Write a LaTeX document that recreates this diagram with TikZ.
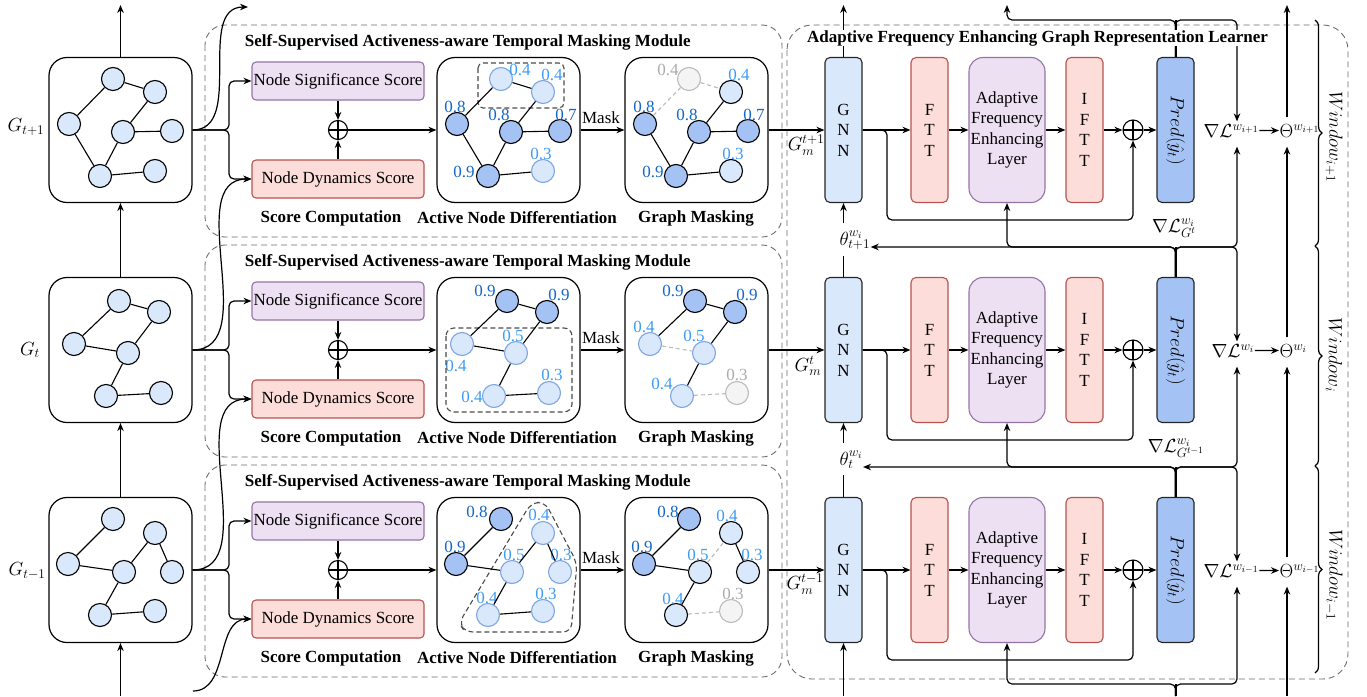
\RequirePackage{fix-cm}
\documentclass[tikz,border=0pt]{standalone}
\usepackage[no-math]{fontspec}
\setmainfont{Liberation Serif}
\usetikzlibrary{arrows.meta,calc,decorations.pathreplacing}

\definecolor{nodeblue}{HTML}{DAE8FC}
\definecolor{nodedark}{HTML}{A4C2F4}
\definecolor{nodeedge}{HTML}{7EA6E0}
\definecolor{ghostfill}{HTML}{F4F4F4}
\definecolor{ghostedge}{HTML}{BBBBBB}
\definecolor{purfill}{HTML}{EDE0F3}
\definecolor{puredge}{HTML}{9673A6}
\definecolor{redfill}{HTML}{FCDDD9}
\definecolor{rededge}{HTML}{B85450}
\definecolor{valdark}{HTML}{1467C8}
\definecolor{vallight}{HTML}{3D9CF5}
\definecolor{valghost}{HTML}{ABABAB}
\definecolor{dashgray}{HTML}{6E6E6E}

\newcommand\bodysize{\fontsize{17}{20.5}\selectfont}
\newcommand\mathsize{\fontsize{19}{22}\selectfont}
% graph vertex with its score: name, style, x, y, score style, dx, dy, score
\newcommand\gv[8]{%
  \node[gnode,#2] (#1) at (#3,#4) {};
  \node[vlab,#5] (#1v) at ({#3+(#6)},{#4+(#7)}) {#8};}

\begin{document}
\begin{tikzpicture}[x=1pt,y=-1pt,line width=1.2pt,
  >={Stealth[length=8pt,width=6.5pt]},
  every node/.style={font=\bodysize},
  mlab/.style={font=\mathsize},
  gbox/.style={draw,rounded corners=18pt,minimum width=143pt,minimum height=145pt,inner sep=0pt},
  gnode/.style={circle,minimum size=23pt,inner sep=0pt,line width=1.1pt},
  ndk/.style={fill=nodedark,draw=black},
  nlt/.style={fill=nodeblue,draw=nodeedge},
  nlb/.style={fill=nodeblue,draw=black},
  ngh/.style={fill=ghostfill,draw=ghostedge},
  vlab/.style={inner sep=0pt},
  vdk/.style={text=valdark},
  vlt/.style={text=vallight},
  vgh/.style={text=valghost},
  gline/.style={line width=1.1pt},
  gdash/.style={draw=ghostedge,line width=1.1pt,dash pattern=on 4pt off 3pt},
  groupbox/.style={draw=black!70,line width=1.1pt,dash pattern=on 5pt off 3pt,rounded corners=5pt},
  modbox/.style={draw=dashgray,line width=0.9pt,dash pattern=on 6pt off 4pt,rounded corners=20pt},
  scorebox/.style={rounded corners=4pt,minimum width=172pt,minimum height=38pt,inner sep=0pt,line width=1.1pt},
  nssbox/.style={scorebox,fill=purfill,draw=puredge},
  ndsbox/.style={scorebox,fill=redfill,draw=rededge},
  sumnode/.style={circle,draw,minimum size=19pt,inner sep=0pt,line width=1.1pt,
    path picture={\draw[line width=1.1pt] (path picture bounding box.north) -- (path picture bounding box.south)
      (path picture bounding box.west) -- (path picture bounding box.east);}},
  colbox/.style={rounded corners=5pt,minimum width=37pt,minimum height=145pt,inner sep=0pt,align=center,line width=1.1pt},
  gnnbox/.style={colbox,fill=nodeblue,draw=black!85},
  fttbox/.style={colbox,fill=redfill,draw=rededge},
  afelbox/.style={colbox,minimum width=76pt,rounded corners=14pt,fill=purfill,draw=puredge},
  predbox/.style={colbox,fill=nodedark,draw=black!85},
  ttl/.style={font=\bodysize\bfseries},
  thick2/.style={line width=2pt}
]
\fill[white] (0,0) rectangle (1367,696);
\useasboundingbox (0,0) rectangle (1367,696);

% ---------- learner frame ----------
\draw[modbox,rounded corners=25pt] (787,25) rectangle (1348,679);

% ---------- rows ----------
\foreach \rw/\cy in {1/130,2/350,3/570}{
  \draw[modbox] (205,\cy-105) rectangle (782,\cy+107);
  \node[ttl,anchor=west] (T\rw) at (241,\cy-88) {Self-Supervised Activeness-aware Temporal Masking Module};
  \node[gbox] (G\rw) at (120.5,\cy) {};
  \node[nssbox] (S\rw) at (338,\cy-49) {Node Significance Score};
  \node[ndsbox] (D\rw) at (338,\cy+49) {Node Dynamics Score};
  \node[sumnode] (P\rw) at (338,\cy) {};
  \node[gbox] (A\rw) at (508.5,\cy) {};
  \node[gbox] (M\rw) at (696.5,\cy) {};
  \node[ttl] (SC\rw) at (331,\cy+88) {Score Computation};
  \node[ttl] (AN\rw) at (517,\cy+88) {Active Node Differentiation};
  \node[ttl] (GK\rw) at (696,\cy+88) {Graph Masking};
  \node (MK\rw) at (601,\cy-12) {Mask};
  \draw[->,rounded corners=5pt] (G\rw.east) -- (229,\cy) |- (S\rw.west);
  \draw[->,rounded corners=5pt] (G\rw.east) -- (229,\cy) |- (D\rw.west);
  \draw[->] (S\rw.south) -- (P\rw.north);
  \draw[->] (D\rw.north) -- (P\rw.south);
  \draw[->] (P\rw.east) -- (A\rw.west);
  \draw[->] (A\rw.east) -- (M\rw.west);
  % learner row
  \node[gnnbox] (N\rw) at (843.5,\cy) {G\\N\\N};
  \node[fttbox] (F\rw) at (929.5,\cy) {F\\T\\T};
  \node[afelbox] (E\rw) at (1007,\cy) {Adaptive\\Frequency\\Enhancing\\Layer};
  \node[fttbox] (I\rw) at (1084.5,\cy) {I\\F\\T\\T};
  \node[sumnode,minimum size=20pt] (Q\rw) at (1133,\cy) {};
  \node[predbox] (R\rw) at (1175.5,\cy) {};
  \node[mlab,rotate=-90] (RT\rw) at (R\rw) {$Pred(\hat{y}_t)$};
  \draw[->] (M\rw.east) -- (N\rw.west);
  \draw[->] (N\rw.east) -- (F\rw.west);
  \draw[->] (F\rw.east) -- (E\rw.west);
  \draw[->] (E\rw.east) -- (I\rw.west);
  \draw[->] (I\rw.east) -- (Q\rw.west);
  \draw[->] (Q\rw.east) -- (R\rw.west);
  \draw[->,rounded corners=5pt] (N\rw.east) -- (887,\cy) -- (887,\cy+90) -| (Q\rw.south);
}

% ---------- snapshot labels and time arrows ----------
\node[mlab] (lg1) at (26,127) {$G_{t+1}$};
\node[mlab] (lg2) at (30,350) {$G_t$};
\node[mlab] (lg3) at (27,571) {$G_{t-1}$};
\coordinate (gTop) at (120.5,5);
\coordinate (gBot) at (120.5,696);
\draw[->] (G1.north) -- (gTop);
\draw[->] (G2.north) -- (G1.south);
\draw[->] (G3.north) -- (G2.south);
\draw[->] (gBot) -- (G3.south);

\coordinate (cTop) at (248,7);
\coordinate (cBot) at (193,691);
\draw[->] (G1.east) to[out=0,in=180] (cTop);
\draw[->] (G2.east) to[out=0,in=180] (D1.west);
\draw[->] (G3.east) to[out=0,in=180] (D2.west);
\draw[->] (cBot) to[out=0,in=180] (D3.west);

% ---------- snapshot graphs ----------
\begin{scope}[shift={(49,57)}]
  \foreach \n/\x/\y in {a/64/22,b/106/35,c/20/67,d/74/75,e/123/74,f/51/119,g/106/114}
    \node[gnode,nlb] (L1\n) at (\x,\y) {};
\end{scope}
\foreach \u/\v in {c/a,a/b,b/d,d/e,c/f,d/f,f/g} \draw[gline] (L1\u) -- (L1\v);

\begin{scope}[shift={(49,277)}]
  \foreach \n/\x/\y in {a/70/24,b/110/35,c/25/67,d/79/76,e/57/119,f/112/116}
    \node[gnode,nlb] (L2\n) at (\x,\y) {};
\end{scope}
\foreach \u/\v in {c/a,a/b,b/d,c/d,d/e,e/f} \draw[gline] (L2\u) -- (L2\v);

\begin{scope}[shift={(49,497)}]
  \foreach \n/\x/\y in {a/64/22,b/106/36,c/19/67,d/75/75,e/123/75,f/51/118,g/106/114}
    \node[gnode,nlb] (L3\n) at (\x,\y) {};
\end{scope}
\foreach \u/\v in {c/a,c/d,d/b,b/e,d/f,f/g} \draw[gline] (L3\u) -- (L3\v);

% ---------- active node differentiation ----------
\begin{scope}[shift={(437,57)}]
  \gv{A1a}{nlt}{64}{22}{vlt}{19}{-9}{0.4}
  \gv{A1b}{nlt}{106}{35}{vlt}{9}{-17}{0.4}
  \gv{A1c}{ndk}{20}{67}{vdk}{-2}{-17}{0.8}
  \gv{A1d}{ndk}{74}{75}{vdk}{-12}{-17}{0.8}
  \gv{A1e}{ndk}{123}{74}{vdk}{6}{-16}{0.7}
  \gv{A1f}{ndk}{51}{119}{vdk}{-24}{-4}{0.9}
  \gv{A1g}{nlt}{106}{114}{vlt}{-2}{-17}{0.3}
  \draw[groupbox] (41,6) rectangle (127,51);
\end{scope}
\foreach \u/\v in {c/a,a/b,b/d,d/e,c/f,d/f,f/g} \draw[gline] (A1\u) -- (A1\v);

\begin{scope}[shift={(437,277)}]
  \gv{A2a}{ndk}{70}{24}{vdk}{-22}{-10}{0.9}
  \gv{A2b}{ndk}{110}{35}{vdk}{12}{-17}{0.9}
  \gv{A2c}{nlt}{25}{67}{vlt}{-6}{22}{0.4}
  \gv{A2d}{nlt}{79}{76}{vlt}{-3}{-17}{0.5}
  \gv{A2e}{nlt}{57}{119}{vlt}{-22}{1}{0.4}
  \gv{A2f}{nlt}{112}{116}{vlt}{3}{-18}{0.3}
  \draw[groupbox,rounded corners=8pt] (9,51) rectangle (135,135);
\end{scope}
\foreach \u/\v in {c/a,a/b,b/d,c/d,d/e,e/f} \draw[gline] (A2\u) -- (A2\v);

\begin{scope}[shift={(437,497)}]
  \gv{A3a}{ndk}{64}{22}{vdk}{-24}{-7}{0.8}
  \gv{A3b}{nlt}{106}{36}{vlt}{-4}{-18}{0.4}
  \gv{A3c}{ndk}{19}{67}{vdk}{-1}{-17}{0.9}
  \gv{A3d}{nlt}{75}{75}{vlt}{2}{-17}{0.5}
  \gv{A3e}{nlt}{123}{75}{vlt}{1}{-17}{0.3}
  \gv{A3f}{nlt}{51}{118}{vlt}{-1}{-17}{0.4}
  \gv{A3g}{nlt}{106}{114}{vlt}{3}{-17}{0.3}
  \draw[groupbox,rounded corners=8pt] (94,6) -- (108,5) -- (140,66) -- (134,135) -- (28,135) -- (22,126) -- cycle;
\end{scope}
\foreach \u/\v in {c/a,c/d,d/b,b/e,d/f,f/g} \draw[gline] (A3\u) -- (A3\v);

% ---------- masked graphs ----------
\begin{scope}[shift={(625,57)}]
  \gv{M1a}{ngh}{64}{22}{vgh}{-21}{-9}{0.4}
  \gv{M1b}{nlb}{106}{35}{vlt}{8}{-17}{0.4}
  \gv{M1c}{ndk}{20}{67}{vdk}{-1}{-17}{0.8}
  \gv{M1d}{ndk}{74}{75}{vdk}{-12}{-17}{0.8}
  \gv{M1e}{ndk}{123}{74}{vdk}{6}{-16}{0.7}
  \gv{M1f}{ndk}{51}{119}{vdk}{-23}{-4}{0.9}
  \gv{M1g}{nlb}{106}{114}{vlt}{2}{-17}{0.3}
\end{scope}
\foreach \u/\v in {c/a,a/b} \draw[gdash] (M1\u) -- (M1\v);
\foreach \u/\v in {b/d,d/e,c/f,d/f,f/g} \draw[gline] (M1\u) -- (M1\v);

\begin{scope}[shift={(625,277)}]
  \gv{M2a}{ndk}{70}{24}{vdk}{-22}{-10}{0.9}
  \gv{M2b}{ndk}{110}{35}{vdk}{12}{-17}{0.9}
  \gv{M2c}{nlt}{25}{67}{vlt}{-6}{-17}{0.4}
  \gv{M2d}{nlt}{79}{76}{vlt}{-10}{-17}{0.5}
  \gv{M2e}{nlt}{57}{119}{vlt}{-20}{-12}{0.4}
  \gv{M2f}{ngh}{112}{116}{vgh}{0}{-18}{0.3}
\end{scope}
\foreach \u/\v in {c/d,e/f} \draw[gdash] (M2\u) -- (M2\v);
\foreach \u/\v in {c/a,a/b,b/d,d/e} \draw[gline] (M2\u) -- (M2\v);

\begin{scope}[shift={(625,497)}]
  \gv{M3a}{ndk}{64}{22}{vdk}{-21}{-7}{0.8}
  \gv{M3b}{nlb}{106}{36}{vlt}{-4}{-17}{0.4}
  \gv{M3c}{ndk}{19}{67}{vdk}{-2}{-17}{0.9}
  \gv{M3d}{nlb}{75}{75}{vlt}{-2}{-17}{0.5}
  \gv{M3e}{nlb}{123}{75}{vlt}{4}{-17}{0.3}
  \gv{M3f}{nlb}{51}{118}{vlt}{-3}{-16}{0.4}
  \gv{M3g}{ngh}{106}{114}{vgh}{2}{-17}{0.3}
\end{scope}
\foreach \u/\v in {d/b,f/g} \draw[gdash] (M3\u) -- (M3\v);
\foreach \u/\v in {c/a,c/d,b/e,d/f} \draw[gline] (M3\u) -- (M3\v);

% ---------- learner inputs and parameters ----------
\node[mlab] (gm1) at (806,145) {$G_m^{t+1}$};
\node[mlab] (gm2) at (808,366) {$G_m^{t}$};
\node[mlab] (gm3) at (805,584) {$G_m^{t-1}$};

\node[mlab,anchor=base west,inner sep=0pt] (th1) at (839,245) {$\theta^{w_i}_{t+1}$};
\node[mlab,anchor=base west,inner sep=0pt] (th2) at (839,465) {$\theta^{w_i}_{t}$};
\coordinate (nTop) at (843.5,5);
\coordinate (nBot) at (843.5,696);
\draw[->] (N1.north) -- (nTop);
\draw[->,shorten <=7pt] (th1.north -| N1.south) -- (N1.south);
\draw[shorten >=6pt] (N2.north) -- (th1.south -| N2.north);
\draw[->,shorten <=7pt] (th2.north -| N2.south) -- (N2.south);
\draw[shorten >=6pt] (N3.north) -- (th2.south -| N3.north);
\draw[->] (nBot) -- (N3.south);

% ---------- gradients and window parameters ----------
\node[mlab,anchor=base west,inner sep=0pt] (dL1) at (1203,137) {$\nabla\mathcal{L}^{w_{i+1}}$};
\node[mlab,anchor=base west,inner sep=0pt] (dL2) at (1211,357) {$\nabla\mathcal{L}^{w_{i}}$};
\node[mlab,anchor=base west,inner sep=0pt] (dL3) at (1203,577) {$\nabla\mathcal{L}^{w_{i-1}}$};
\node[mlab,anchor=base west,inner sep=0pt] (om1) at (1279,137) {$\Theta^{w_{i+1}}$};
\node[mlab,anchor=base west,inner sep=0pt] (om2) at (1279,357) {$\Theta^{w_{i}}$};
\node[mlab,anchor=base west,inner sep=0pt] (om3) at (1279,577) {$\Theta^{w_{i-1}}$};
\draw[->] (dL1.east) -- (om1.west);
\draw[->] (dL2.east) -- (om2.west);
\draw[->] (dL3.east) -- (om3.west);

\node[mlab] (gL1) at (1174,228) {$\nabla\mathcal{L}^{w_i}_{G^t}$};
\node[mlab] (gL2) at (1176,448) {$\nabla\mathcal{L}^{w_i}_{G^{t-1}}$};

\coordinate (xL) at (1237,0);
\coordinate (xT) at (1287,0);
\coordinate (y0) at (0,20);
\coordinate (y1) at (0,247);
\coordinate (y2) at (0,467);
\coordinate (y3) at (0,684);
\coordinate (aTop) at (1007,5);
\coordinate (pBot) at (1175.5,696);
\coordinate (oTop) at (1287,5);
\coordinate (oBot) at (1287,696);

% feedback above the first row
\draw[thick2] (R1.north) -- (R1.north |- y0);
\draw[->,rounded corners=5pt] (R1.north) |- (aTop |- y0) -- (aTop);
\draw[->,rounded corners=5pt,shorten >=2pt] (R1.north) |- (xL |- y0) -- (dL1.north -| xL);

% feedback between rows
\draw[thick2] (R2.north) -- (R2.north |- y1);
\draw[->,rounded corners=5pt] (R2.north) |- (th1.east |- y1);
\draw[->,rounded corners=5pt] (R2.north) |- (E1.south |- y1) -- (E1.south);
\draw[->,rounded corners=5pt,shorten >=9pt] (R2.north) |- (xL |- y1) -- (dL1.south -| xL);
\draw[->,rounded corners=5pt,shorten >=2pt] (R2.north) |- (xL |- y1) -- (dL2.north -| xL);

\draw[thick2] (R3.north) -- (R3.north |- y2);
\draw[->,rounded corners=5pt] (R3.north) |- (th2.east |- y2);
\draw[->,rounded corners=5pt] (R3.north) |- (E2.south |- y2) -- (E2.south);
\draw[->,rounded corners=5pt,shorten >=9pt] (R3.north) |- (xL |- y2) -- (dL2.south -| xL);
\draw[->,rounded corners=5pt,shorten >=2pt] (R3.north) |- (xL |- y2) -- (dL3.north -| xL);

% feedback below the last row
\draw[thick2] (pBot) -- (pBot |- y3);
\draw[->,rounded corners=5pt] (pBot) |- (E3.south |- y3) -- (E3.south);
\draw[->,rounded corners=5pt,shorten >=9pt] (pBot) |- (xL |- y3) -- (dL3.south -| xL);

% parameter chain
\draw[->,shorten <=6pt] (om1.north -| xT) -- (oTop);
\draw[->,shorten <=6pt,shorten >=9pt] (om2.north -| xT) -- (om1.south -| xT);
\draw[->,shorten <=6pt,shorten >=9pt] (om3.north -| xT) -- (om2.south -| xT);
\draw[->,shorten >=9pt] (oBot) -- (om3.south -| xT);

% learner title, drawn over the lines that run behind it
\node[ttl,fill=white,inner sep=0.5pt] (T0) at (1037.5,38) {Adaptive Frequency Enhancing Graph Representation Learner};

% windows
\draw[decorate,decoration={brace,amplitude=7pt}] (1315,20) -- (1315,246);
\draw[decorate,decoration={brace,amplitude=7pt}] (1315,246) -- (1315,466);
\draw[decorate,decoration={brace,amplitude=7pt}] (1315,466) -- (1315,673);
\node[mlab,rotate=-90] (win1) at (1334,137) {$Window_{i+1}$};
\node[mlab,rotate=-90] (win2) at (1334,355) {$Window_{i}$};
\node[mlab,rotate=-90] (win3) at (1334,575) {$Window_{i-1}$};
\end{tikzpicture}
\end{document}
